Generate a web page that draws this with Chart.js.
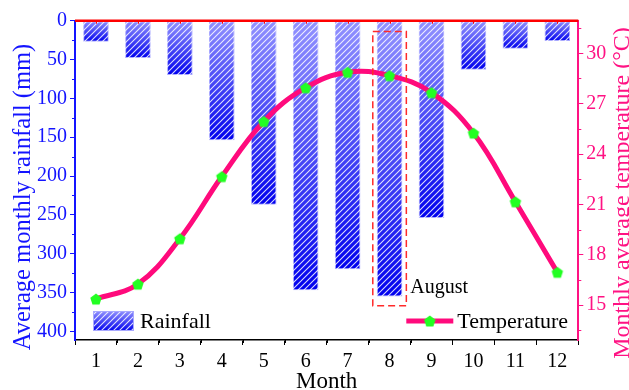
<!DOCTYPE html>
<html>
<head>
<meta charset="utf-8">
<title>Monthly rainfall and temperature</title>
<script src="https://cdn.jsdelivr.net/npm/chart.js@4/dist/chart.umd.min.js"></script>
<style>
  html, body { margin: 0; padding: 0; background: #ffffff; }
  #wrap { width: 629px; height: 390px; }
</style>
</head>
<body>
<div id="wrap"><canvas id="chart" width="629" height="390"></canvas></div>
<script>
// ---- data ----
const months = ['1', '2', '3', '4', '5', '6', '7', '8', '9', '10', '11', '12'];
const rainfall = [27, 48, 70, 154, 237, 347, 320, 355, 254, 63, 36, 26];          // mm
const temperature = [15.37, 16.26, 18.96, 22.66, 25.94, 27.95, 28.87, 28.67, 27.66, 25.25, 21.16, 16.96]; // °C
const rainfallTicks = [0, 50, 100, 150, 200, 250, 300, 350, 400];
const rainfallMinorTicks = [25, 75, 125, 175, 225, 275, 325, 375];
const temperatureTicks = [15, 18, 21, 24, 27, 30];
const temperatureMinorTicks = [13.5, 16.5, 19.5, 22.5, 25.5, 28.5, 31.5];
const highlightMonth = '8';
const highlightLabel = 'August';
const highlightRange = [14, 367]; // rainfall-axis extent of the dashed frame

const SERIF = '"Liberation Serif", "Times New Roman", serif';
const BLUE = '#1414ff';
const PINK = '#ff1283';
const LINE_PINK = '#ff0a7c';
const GREEN = '#22ff22';

// white diagonal hatch used on top of the bars
function makeHatch(ctx) {
  const c = document.createElement('canvas');
  c.width = 6; c.height = 6;
  const g = c.getContext('2d');
  g.strokeStyle = 'rgba(255,255,255,0.85)';
  g.lineWidth = 1.1;
  g.beginPath();
  g.moveTo(-1, 7); g.lineTo(7, -1);
  g.moveTo(-1, 1); g.lineTo(1, -1);
  g.moveTo(5, 7); g.lineTo(7, 5);
  g.stroke();
  return ctx.createPattern(c, 'repeat');
}

// green pentagon marker
function makePentagon(r) {
  const size = Math.ceil(r * 2 + 2);
  const c = document.createElement('canvas');
  c.width = size; c.height = size;
  const g = c.getContext('2d');
  g.fillStyle = GREEN;
  g.beginPath();
  for (let k = 0; k < 5; k++) {
    const a = -Math.PI / 2 + k * 2 * Math.PI / 5;
    const px = size / 2 + r * Math.cos(a);
    const py = size / 2 + 0.6 + r * Math.sin(a);
    if (k === 0) g.moveTo(px, py); else g.lineTo(px, py);
  }
  g.closePath();
  g.fill();
  return c;
}

const canvas = document.getElementById('chart');
const ctx2d = canvas.getContext('2d');
const hatch = makeHatch(ctx2d);
const pentagon = makePentagon(6);

function barGradient(c) {
  const chart = c.chart;
  if (!chart.chartArea || c.type !== 'data') return '#6a6aff';
  const ys = chart.scales.y;
  const top = ys.getPixelForValue(0);
  const bot = ys.getPixelForValue(c.raw);
  const g = chart.ctx.createLinearGradient(0, top, 0, bot);
  g.addColorStop(0, '#9292ff');
  g.addColorStop(1, '#0000ee');
  return g;
}

// axis titles, minor ticks, top frame line, highlight frame and legend
const decorations = {
  id: 'decorations',
  afterDatasetsDraw(chart) {
    const { ctx, chartArea: a, scales } = chart;
    const x = scales.x, y = scales.y, y1 = scales.y1;
    ctx.save();

    // highlight frame around one month
    const i = months.indexOf(highlightMonth);
    const step = x.getPixelForValue(1) - x.getPixelForValue(0);
    const cx = x.getPixelForValue(i);
    const fx0 = cx - step * 0.4, fx1 = cx + step * 0.4;
    const fy0 = y.getPixelForValue(highlightRange[0]);
    const fy1 = y.getPixelForValue(highlightRange[1]);
    ctx.strokeStyle = '#ff2a2a';
    ctx.lineWidth = 1.5;
    ctx.setLineDash([7, 4]);
    ctx.strokeRect(fx0, fy0, fx1 - fx0, fy1 - fy0);
    ctx.setLineDash([]);
    ctx.fillStyle = '#000000';
    ctx.font = '20px ' + SERIF;
    ctx.textAlign = 'left';
    ctx.textBaseline = 'alphabetic';
    ctx.fillText(highlightLabel, fx1 + 4, fy1 - 13);

    // top frame line (red) with small inward ticks
    ctx.strokeStyle = '#ff0000';
    ctx.lineWidth = 2.5;
    ctx.beginPath();
    ctx.moveTo(a.left, a.top);
    ctx.lineTo(a.right, a.top);
    ctx.stroke();
    ctx.lineWidth = 1;
    ctx.beginPath();
    months.forEach((m, k) => {
      const px = Math.round(x.getPixelForValue(k)) + 0.5;
      ctx.moveTo(px, a.top);
      ctx.lineTo(px, a.top + 3);
    });
    ctx.stroke();

    // minor ticks
    ctx.lineWidth = 1;
    ctx.strokeStyle = '#000000';
    ctx.beginPath();
    for (let k = 0; k < months.length - 1; k++) {
      const px = Math.round((x.getPixelForValue(k) + x.getPixelForValue(k + 1)) / 2) + 0.5;
      ctx.moveTo(px, a.bottom);
      ctx.lineTo(px, a.bottom + 3);
    }
    ctx.stroke();
    ctx.strokeStyle = BLUE;
    ctx.beginPath();
    rainfallMinorTicks.forEach(v => {
      const py = Math.round(y.getPixelForValue(v)) + 0.5;
      ctx.moveTo(a.left, py);
      ctx.lineTo(a.left - 3, py);
    });
    ctx.stroke();
    ctx.strokeStyle = PINK;
    ctx.beginPath();
    temperatureMinorTicks.forEach(v => {
      const py = Math.round(y1.getPixelForValue(v)) + 0.5;
      ctx.moveTo(a.right, py);
      ctx.lineTo(a.right + 3, py);
    });
    ctx.stroke();

    // legend: rainfall
    const lx = a.left + 18, ly = a.bottom - 29, lw = 41, lh = 20;
    const lg = ctx.createLinearGradient(0, ly, 0, ly + lh);
    lg.addColorStop(0, '#9292ff');
    lg.addColorStop(1, '#0000ee');
    ctx.fillStyle = lg;
    ctx.fillRect(lx, ly, lw, lh);
    ctx.fillStyle = hatch;
    ctx.fillRect(lx, ly, lw, lh);
    ctx.strokeStyle = '#a8a8ff';
    ctx.lineWidth = 1;
    ctx.strokeRect(lx + 0.5, ly + 0.5, lw - 1, lh - 1);
    ctx.fillStyle = '#000000';
    ctx.font = '22px ' + SERIF;
    ctx.textAlign = 'left';
    ctx.textBaseline = 'alphabetic';
    ctx.fillText('Rainfall', lx + lw + 6, a.bottom - 12.5);

    // legend: temperature
    const tx0 = a.right - 172, tx1 = tx0 + 47, ty = a.bottom - 19;
    ctx.strokeStyle = LINE_PINK;
    ctx.lineWidth = 5;
    ctx.beginPath();
    ctx.moveTo(tx0, ty);
    ctx.lineTo(tx1, ty);
    ctx.stroke();
    ctx.drawImage(pentagon, (tx0 + tx1) / 2 - pentagon.width / 2, ty - pentagon.height / 2);
    ctx.fillStyle = '#000000';
    ctx.fillText('Temperature', tx1 + 4, a.bottom - 12.5);

    ctx.restore();
  },
  afterDraw(chart) {
    const { ctx, chartArea: a, height } = chart;
    ctx.save();
    ctx.textAlign = 'center';
    ctx.textBaseline = 'alphabetic';

    // x title
    ctx.fillStyle = '#000000';
    ctx.font = '23px ' + SERIF;
    ctx.fillText('Month', (a.left + a.right) / 2, height - 2);

    // left title
    ctx.font = '24.5px ' + SERIF;
    ctx.fillStyle = BLUE;
    ctx.save();
    ctx.translate(29.5, 197);
    ctx.rotate(-Math.PI / 2);
    ctx.fillText('Average monthly rainfall (mm)', 0, 0);
    ctx.restore();

    // right title
    ctx.fillStyle = PINK;
    ctx.font = '24px ' + SERIF;
    ctx.save();
    ctx.translate(629, 193);
    ctx.rotate(-Math.PI / 2);
    ctx.fillText('Monthly average temperature (\u00B0C)', 0, 0);
    ctx.restore();

    ctx.restore();
  }
};

new Chart(canvas, {
  type: 'bar',
  data: {
    labels: months,
    datasets: [
      {
        type: 'line',
        label: 'Temperature',
        data: temperature,
        yAxisID: 'y1',
        borderColor: LINE_PINK,
        borderWidth: 5,
        tension: 0.4,
        pointStyle: pentagon,
        pointRadius: 6,
        fill: false,
        order: 0
      },
      {
        label: 'Rainfall',
        data: rainfall,
        yAxisID: 'y',
        backgroundColor: barGradient,
        borderColor: '#a8a8ff',
        borderWidth: 1,
        borderSkipped: false,
        categoryPercentage: 1,
        barPercentage: 0.61,
        grouped: false,
        order: 2
      },
      {
        label: 'Rainfall hatch',
        data: rainfall,
        yAxisID: 'y',
        backgroundColor: hatch,
        borderWidth: 0,
        categoryPercentage: 1,
        barPercentage: 0.61,
        grouped: false,
        order: 1
      }
    ]
  },
  options: {
    responsive: false,
    animation: false,
    layout: { padding: { top: 20.7, left: 0, right: 0, bottom: 0 } },
    plugins: {
      legend: { display: false },
      tooltip: { enabled: false }
    },
    scales: {
      x: {
        type: 'category',
        offset: true,
        grid: { display: true, drawOnChartArea: false, color: '#000000', tickLength: 5, lineWidth: 1 },
        border: { display: true, color: '#000000', width: 1.5 },
        ticks: { color: '#000000', font: { family: SERIF, size: 20 }, padding: 5, maxRotation: 0 },
        afterFit(s) { s.height = 50; }
      },
      y: {
        position: 'left',
        reverse: true,
        min: 0,
        max: 411,
        grid: { display: true, drawOnChartArea: false, color: BLUE, tickLength: 5, lineWidth: 1 },
        border: { display: true, color: BLUE, width: 2 },
        ticks: { color: BLUE, font: { family: SERIF, size: 20 }, padding: 3 },
        afterBuildTicks(s) { s.ticks = rainfallTicks.map(v => ({ value: v })); },
        afterFit(s) { s.width = 75; }
      },
      y1: {
        position: 'right',
        min: 12.93,
        max: 31.94,
        grid: { display: true, drawOnChartArea: false, color: PINK, tickLength: 5, lineWidth: 1 },
        border: { display: true, color: PINK, width: 2 },
        ticks: { color: PINK, font: { family: SERIF, size: 20 }, padding: 3 },
        afterBuildTicks(s) { s.ticks = temperatureTicks.map(v => ({ value: v })); },
        afterFit(s) { s.width = 50.7; }
      }
    }
  },
  plugins: [decorations]
});
</script>
</body>
</html>
